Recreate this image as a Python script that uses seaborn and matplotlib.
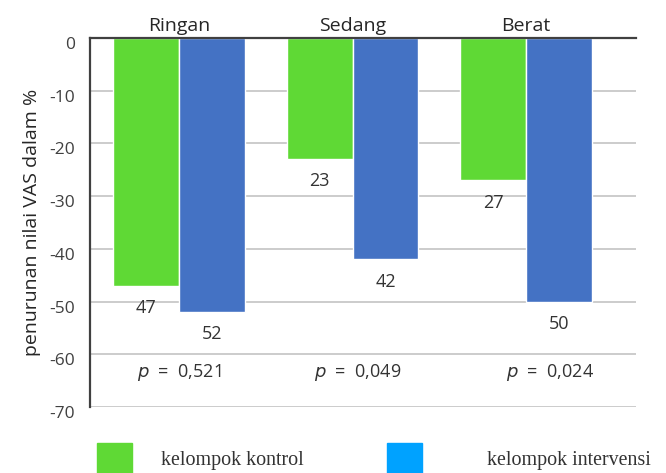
import matplotlib
matplotlib.use("Agg")
import matplotlib.pyplot as plt
import matplotlib.transforms as mtransforms
from matplotlib.patches import Rectangle
import seaborn as sns
import pandas as pd

# Categories, groups and mean VAS reductions (%)
kategori = ["Ringan", "Sedang", "Berat"]
kelompok = ["kelompok kontrol", "kelompok intervensi"]
kontrol = [47, 23, 27]
intervensi = [52, 42, 50]
p_values = ["0,521", "0,049", "0,024"]
y_ticks = [0, -10, -20, -30, -40, -50, -60, -70]

bar_colors = ["#5FD935", "#4472C4"]
legend_colors = ["#5FD935", "#00A2FF"]

df = pd.DataFrame({
    "kategori": kategori * 2,
    "kelompok": [kelompok[0]] * 3 + [kelompok[1]] * 3,
    "nilai": [-v for v in kontrol] + [-v for v in intervensi],
})

sns.set_theme(style="white")
plt.rcParams["font.family"] = ["Open Sans", "DejaVu Sans"]
plt.rcParams["axes.unicode_minus"] = False

fig = plt.figure(figsize=(6.66, 4.73), dpi=100)
ax = fig.add_axes([0.1351, 0.1395, 0.955 - 0.1351, 0.9197 - 0.1395])

sns.barplot(data=df, x="kategori", y="nilai", hue="kelompok",
            palette=bar_colors, width=0.76, saturation=1, ax=ax,
            legend=False, errorbar=None)

ax.set_ylim(-70, 0)
ax.set_xlim(-0.513, 2.634)
ax.set_yticks(y_ticks)
ax.set_yticklabels([str(t) for t in y_ticks])
ax.yaxis.grid(True, color="#C4C4C4", linewidth=1.2)
ax.set_axisbelow(True)

for side in ["right", "bottom"]:
    ax.spines[side].set_visible(False)
for side in ["top", "left"]:
    ax.spines[side].set_color("#404040")
    ax.spines[side].set_linewidth(1.6)

ax.xaxis.tick_top()
ax.tick_params(axis="x", length=0, pad=2, labelsize=14, colors="#262626")
ax.tick_params(axis="y", length=0, pad=11, labelsize=12.5, colors="#404040")
ax.set_xlabel("")
ax.set_ylabel("penurunan nilai VAS dalam %", fontsize=14, color="#262626",
              labelpad=6)

shift = mtransforms.ScaledTranslation(0, -5 / 100, fig.dpi_scale_trans)
for lab in ax.get_yticklabels():
    lab.set_transform(lab.get_transform() + shift)

# Value labels under each bar end
for container in ax.containers:
    for bar in container:
        h = bar.get_height()
        ax.annotate(f"{abs(h):.0f}", (bar.get_x() + bar.get_width() / 2, h),
                    xytext=(0, -16), textcoords="offset points",
                    ha="center", va="center", fontsize=13, color="#333333")

# p-values per category
p_x = [0.0, 1.03, 2.14]
for x, p in zip(p_x, p_values):
    ax.text(x, -63.4, r"$\it{p}$  =  " + p, ha="center", va="center",
            fontsize=13, color="#333333")

# Legend drawn as squares and serif text at the bottom
legend_boxes = [(97, 387), (161, 487)]
for i, (name, col) in enumerate(zip(kelompok, legend_colors)):
    x0 = legend_boxes[0][i]
    fig.patches.append(Rectangle((x0 / 666, 0), 35 / 666, 30 / 473,
                                 transform=fig.transFigure, color=col))
    fig.text(legend_boxes[1][i] / 666, 1 - 460 / 473, name,
             family="Liberation Serif", fontsize=14.4, color="#333333",
             ha="left", va="center")

fig.savefig("out.png", dpi=100)
